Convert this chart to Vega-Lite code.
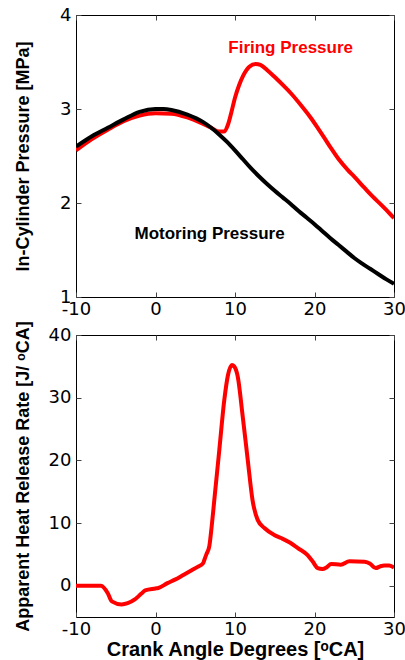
{
  "$schema": "https://vega.github.io/schema/vega-lite/v6.json",
  "background": "white",
  "padding": {"left": 13, "top": 5, "right": 5, "bottom": 5},
  "bounds": "flush",
  "spacing": 38,
  "config": {
    "view": {"stroke": "black", "strokeWidth": 1},
    "axis": {
      "domain": false,
      "grid": false,
      "ticks": true,
      "tickSize": -5,
      "tickColor": "#444444",
      "labelFont": "DejaVu Sans",
      "labelFontSize": 18,
      "labelColor": "black",
      "labelPadding": 10,
      "labelFlush": false,
      "labelOverlap": false,
      "labelExpr": "replace(datum.label, '−', '-')",
      "titleFont": "Liberation Sans",
      "titleFontSize": 18,
      "titleFontWeight": "bold",
      "titleColor": "black"
    },
    "axisX": {"labelPadding": 8}
  },
  "datasets": {
    "pressure": [
      {"crank": -10, "p": 2.60, "series": "Motoring"},
      {"crank": -8, "p": 2.71, "series": "Motoring"},
      {"crank": -6, "p": 2.80, "series": "Motoring"},
      {"crank": -4, "p": 2.89, "series": "Motoring"},
      {"crank": -2, "p": 2.97, "series": "Motoring"},
      {"crank": 0, "p": 3.00, "series": "Motoring"},
      {"crank": 1, "p": 3.00, "series": "Motoring"},
      {"crank": 2, "p": 2.99, "series": "Motoring"},
      {"crank": 4, "p": 2.94, "series": "Motoring"},
      {"crank": 6, "p": 2.86, "series": "Motoring"},
      {"crank": 8, "p": 2.73, "series": "Motoring"},
      {"crank": 9, "p": 2.65, "series": "Motoring"},
      {"crank": 10, "p": 2.56, "series": "Motoring"},
      {"crank": 11, "p": 2.465, "series": "Motoring"},
      {"crank": 12, "p": 2.37, "series": "Motoring"},
      {"crank": 13, "p": 2.285, "series": "Motoring"},
      {"crank": 14, "p": 2.205, "series": "Motoring"},
      {"crank": 15, "p": 2.13, "series": "Motoring"},
      {"crank": 16, "p": 2.06, "series": "Motoring"},
      {"crank": 17, "p": 1.99, "series": "Motoring"},
      {"crank": 18, "p": 1.915, "series": "Motoring"},
      {"crank": 19, "p": 1.845, "series": "Motoring"},
      {"crank": 20, "p": 1.775, "series": "Motoring"},
      {"crank": 21, "p": 1.70, "series": "Motoring"},
      {"crank": 22, "p": 1.625, "series": "Motoring"},
      {"crank": 23, "p": 1.555, "series": "Motoring"},
      {"crank": 24, "p": 1.485, "series": "Motoring"},
      {"crank": 25, "p": 1.415, "series": "Motoring"},
      {"crank": 26, "p": 1.355, "series": "Motoring"},
      {"crank": 27, "p": 1.30, "series": "Motoring"},
      {"crank": 28, "p": 1.245, "series": "Motoring"},
      {"crank": 29, "p": 1.19, "series": "Motoring"},
      {"crank": 30, "p": 1.14, "series": "Motoring"},
      {"crank": -10, "p": 2.56, "series": "Firing"},
      {"crank": -8, "p": 2.68, "series": "Firing"},
      {"crank": -6, "p": 2.78, "series": "Firing"},
      {"crank": -4, "p": 2.87, "series": "Firing"},
      {"crank": -2, "p": 2.93, "series": "Firing"},
      {"crank": 0, "p": 2.955, "series": "Firing"},
      {"crank": 2, "p": 2.95, "series": "Firing"},
      {"crank": 4, "p": 2.91, "series": "Firing"},
      {"crank": 6, "p": 2.84, "series": "Firing"},
      {"crank": 7, "p": 2.80, "series": "Firing"},
      {"crank": 8, "p": 2.76, "series": "Firing"},
      {"crank": 8.6, "p": 2.76, "series": "Firing"},
      {"crank": 9.1, "p": 2.83, "series": "Firing"},
      {"crank": 9.5, "p": 2.95, "series": "Firing"},
      {"crank": 10, "p": 3.12, "series": "Firing"},
      {"crank": 10.5, "p": 3.25, "series": "Firing"},
      {"crank": 11, "p": 3.35, "series": "Firing"},
      {"crank": 11.8, "p": 3.45, "series": "Firing"},
      {"crank": 12.6, "p": 3.48, "series": "Firing"},
      {"crank": 13.2, "p": 3.47, "series": "Firing"},
      {"crank": 14.1, "p": 3.41, "series": "Firing"},
      {"crank": 15, "p": 3.34, "series": "Firing"},
      {"crank": 16.2, "p": 3.24, "series": "Firing"},
      {"crank": 17, "p": 3.17, "series": "Firing"},
      {"crank": 18.3, "p": 3.04, "series": "Firing"},
      {"crank": 19.5, "p": 2.91, "series": "Firing"},
      {"crank": 20.4, "p": 2.80, "series": "Firing"},
      {"crank": 21.3, "p": 2.685, "series": "Firing"},
      {"crank": 22.1, "p": 2.58, "series": "Firing"},
      {"crank": 23, "p": 2.47, "series": "Firing"},
      {"crank": 24.2, "p": 2.35, "series": "Firing"},
      {"crank": 25, "p": 2.28, "series": "Firing"},
      {"crank": 26.3, "p": 2.16, "series": "Firing"},
      {"crank": 27.3, "p": 2.07, "series": "Firing"},
      {"crank": 28.4, "p": 1.98, "series": "Firing"},
      {"crank": 29.2, "p": 1.91, "series": "Firing"},
      {"crank": 30, "p": 1.84, "series": "Firing"}
    ],
    "labels": [
      {"crank": 17.0, "p": 3.65, "text": "Firing Pressure", "series": "Firing"},
      {"crank": 6.8, "p": 1.665, "text": "Motoring Pressure", "series": "Motoring"}
    ],
    "hrr": [
      {"crank": -10, "q": 0},
      {"crank": -8, "q": 0},
      {"crank": -6.85, "q": 0},
      {"crank": -6, "q": -1.2},
      {"crank": -5.5, "q": -2.5},
      {"crank": -4.25, "q": -3.0},
      {"crank": -3.5, "q": -2.8},
      {"crank": -2.6, "q": -2.2},
      {"crank": -1.8, "q": -1.3},
      {"crank": -1.3, "q": -0.75},
      {"crank": 0, "q": -0.45},
      {"crank": 0.35, "q": -0.37},
      {"crank": 1.5, "q": 0.4},
      {"crank": 2.45, "q": 0.96},
      {"crank": 3.5, "q": 1.7},
      {"crank": 4.55, "q": 2.45},
      {"crank": 5.3, "q": 3.0},
      {"crank": 6.0, "q": 3.6},
      {"crank": 6.14, "q": 4.1},
      {"crank": 6.4, "q": 5.0},
      {"crank": 6.77, "q": 6.3},
      {"crank": 7.07, "q": 9.5},
      {"crank": 7.4, "q": 13.7},
      {"crank": 8.03, "q": 21.7},
      {"crank": 8.66, "q": 29.7},
      {"crank": 9.1, "q": 33.5},
      {"crank": 9.62, "q": 35.2},
      {"crank": 9.9, "q": 35.0},
      {"crank": 10.34, "q": 33.4},
      {"crank": 10.97, "q": 27},
      {"crank": 11.6, "q": 20.1},
      {"crank": 12.2, "q": 13.7},
      {"crank": 12.85, "q": 10.5},
      {"crank": 13.7, "q": 9.2},
      {"crank": 14.94, "q": 8.1},
      {"crank": 15.8, "q": 7.6},
      {"crank": 17.0, "q": 6.8},
      {"crank": 17.9, "q": 6.0},
      {"crank": 19.1, "q": 4.9},
      {"crank": 19.8, "q": 3.8},
      {"crank": 20.4, "q": 2.8},
      {"crank": 21.0, "q": 2.65},
      {"crank": 21.5, "q": 2.9},
      {"crank": 22.1, "q": 3.46},
      {"crank": 23.3, "q": 3.35},
      {"crank": 24.4, "q": 3.9},
      {"crank": 26.3, "q": 3.8},
      {"crank": 27.0, "q": 3.5},
      {"crank": 27.7, "q": 2.8},
      {"crank": 28.3, "q": 3.1},
      {"crank": 28.8, "q": 3.2},
      {"crank": 29.4, "q": 3.2},
      {"crank": 30, "q": 2.9}
    ]
  },
  "vconcat": [
    {
      "width": 318,
      "height": 282,
      "resolve": {"axis": {"x": "independent", "y": "independent"}},
      "layer": [
        {
          "data": {"name": "pressure"},
          "transform": [{"filter": "datum.series === 'Firing'"}],
          "mark": {"type": "line", "color": "#ff0000", "strokeWidth": 4, "interpolate": "monotone", "clip": true},
          "encoding": {
            "x": {"field": "crank", "type": "quantitative", "scale": {"domain": [-10, 30], "nice": false, "zero": false},
                  "axis": {"values": [-10, 0, 10, 20, 30], "title": null, "orient": "bottom"}},
            "y": {"field": "p", "type": "quantitative", "scale": {"domain": [1, 4], "nice": false, "zero": false},
                  "axis": {"values": [1, 2, 3, 4], "title": "In-Cylinder Pressure [MPa]", "orient": "left",
                           "titleX": -48, "titleY": 141, "titleAngle": -90, "titleBaseline": "alphabetic", "titleAlign": "center"}}
          }
        },
        {
          "data": {"name": "pressure"},
          "transform": [{"filter": "datum.series === 'Motoring'"}],
          "mark": {"type": "line", "color": "#000000", "strokeWidth": 4, "interpolate": "monotone", "clip": true},
          "encoding": {
            "x": {"field": "crank", "type": "quantitative", "axis": null},
            "y": {"field": "p", "type": "quantitative", "axis": null}
          }
        },
        {
          "data": {"name": "labels"},
          "mark": {"type": "text", "font": "Liberation Sans", "fontWeight": "bold", "fontSize": 17, "baseline": "middle", "align": "center"},
          "encoding": {
            "x": {"field": "crank", "type": "quantitative", "axis": null},
            "y": {"field": "p", "type": "quantitative", "axis": null},
            "text": {"field": "text"},
            "color": {"field": "series", "type": "nominal", "scale": {"domain": ["Firing", "Motoring"], "range": ["#ff0000", "#000000"]}, "legend": null}
          }
        },
        {
          "data": {"name": "pressure"},
          "mark": {"type": "line", "opacity": 0},
          "encoding": {
            "x": {"field": "crank", "type": "quantitative",
                  "axis": {"values": [-10, 0, 10, 20, 30], "title": null, "orient": "top", "labels": false}},
            "y": {"field": "p", "type": "quantitative",
                  "axis": {"values": [1, 2, 3, 4], "title": null, "orient": "right", "labels": false}},
            "detail": {"field": "series"}
          }
        }
      ]
    },
    {
      "width": 318,
      "height": 282,
      "resolve": {"axis": {"x": "independent", "y": "independent"}},
      "layer": [
        {
          "data": {"name": "hrr"},
          "mark": {"type": "line", "color": "#ff0000", "strokeWidth": 4, "interpolate": "monotone", "clip": true},
          "encoding": {
            "x": {"field": "crank", "type": "quantitative", "scale": {"domain": [-10, 30], "nice": false, "zero": false},
                  "axis": {"values": [-10, 0, 10, 20, 30], "title": "Crank Angle Degrees [ᵒCA]", "orient": "bottom",
                           "titleFontSize": 20, "titleY": 38, "titleBaseline": "alphabetic"}},
            "y": {"field": "q", "type": "quantitative", "scale": {"domain": [-5, 40], "nice": false, "zero": false},
                  "axis": {"values": [0, 10, 20, 30, 40], "title": "Apparent Heat Release Rate [J/ ᵒCA]", "orient": "left",
                           "titleX": -48, "titleY": 141, "titleAngle": -90, "titleBaseline": "alphabetic", "titleAlign": "center"}}
          }
        },
        {
          "data": {"name": "hrr"},
          "mark": {"type": "line", "opacity": 0},
          "encoding": {
            "x": {"field": "crank", "type": "quantitative",
                  "axis": {"values": [-10, 0, 10, 20, 30], "title": null, "orient": "top", "labels": false}},
            "y": {"field": "q", "type": "quantitative",
                  "axis": {"values": [0, 10, 20, 30, 40], "title": null, "orient": "right", "labels": false}}
          }
        }
      ]
    }
  ]
}
